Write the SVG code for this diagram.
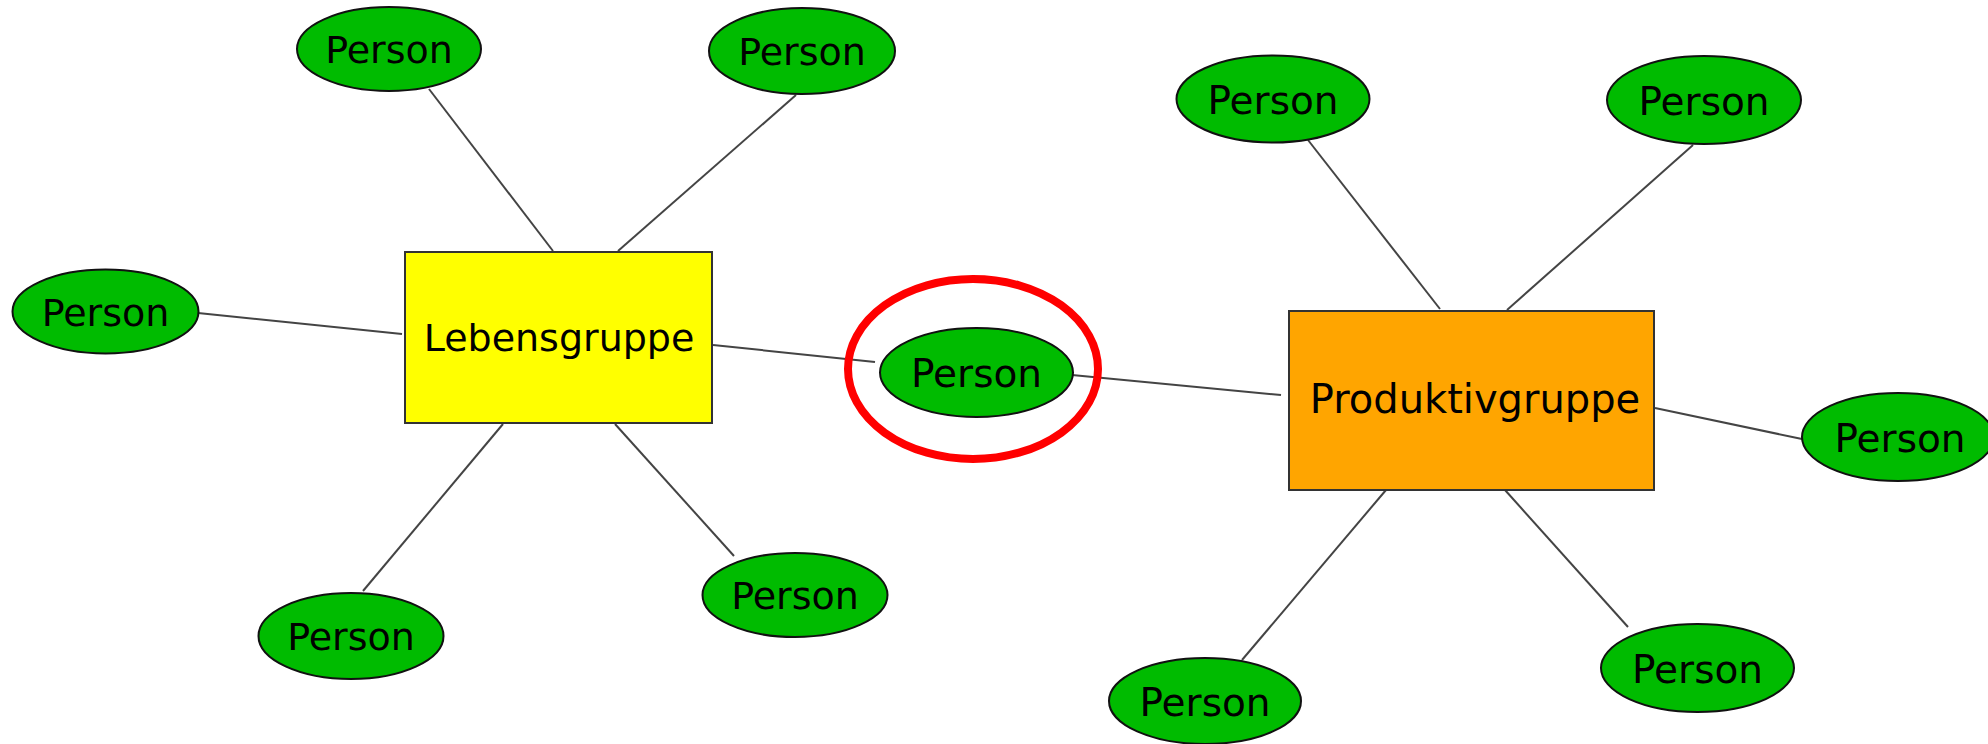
<svg xmlns="http://www.w3.org/2000/svg" width="1988" height="744" viewBox="0 0 1988 744">
<style>
.person{fill:#00bb00;stroke:#111;stroke-width:2}
.lbl{font-family:"DejaVu Sans",sans-serif;font-size:38px;fill:#000;text-anchor:middle}
.lbl2{font-family:"DejaVu Sans",sans-serif;font-size:39px;fill:#000;text-anchor:middle}
.conn line{stroke:#444;stroke-width:2}
.grp{stroke:#333;stroke-width:2}
</style>
<rect width="1988" height="744" fill="#fff"/>
<g class="conn" id="connectors">
<line x1="429" y1="89" x2="553" y2="251"/>
<line x1="796" y1="95" x2="618" y2="251"/>
<line x1="198" y1="313" x2="402" y2="334"/>
<line x1="713" y1="345" x2="875" y2="362"/>
<line x1="503" y1="424" x2="363" y2="591"/>
<line x1="615" y1="424" x2="734" y2="556"/>
<line x1="1072" y1="375" x2="1281" y2="395"/>
<line x1="1308" y1="140" x2="1440" y2="309"/>
<line x1="1693" y1="145" x2="1507" y2="310"/>
<line x1="1655" y1="408" x2="1802" y2="439"/>
<line x1="1386" y1="490" x2="1242" y2="660"/>
<line x1="1505" y1="490" x2="1628" y2="627"/>
</g>
<g id="lebensgruppe">
<rect class="grp" x="405" y="252" width="307" height="171" fill="#ffff00"/>
<text class="lbl" x="559" y="351">Lebensgruppe</text>
</g>
<g id="produktivgruppe">
<rect class="grp" x="1289" y="311" width="365" height="179" fill="#ffa500"/>
<text class="lbl2" x="1475" y="413" style="font-size:40px">Produktivgruppe</text>
</g>
<g id="person-l1"><ellipse class="person" cx="389" cy="49" rx="92" ry="42"/><text class="lbl" x="389" y="63">Person</text></g>
<g id="person-l2"><ellipse class="person" cx="802" cy="51" rx="93" ry="43"/><text class="lbl" x="802" y="65">Person</text></g>
<g id="person-l3"><ellipse class="person" cx="105.5" cy="311.5" rx="93" ry="42"/><text class="lbl" x="105.5" y="325.5">Person</text></g>
<g id="person-l4"><ellipse class="person" cx="351" cy="636" rx="92.5" ry="43"/><text class="lbl" x="351" y="650">Person</text></g>
<g id="person-l5"><ellipse class="person" cx="795" cy="595" rx="92.5" ry="42"/><text class="lbl" x="795" y="609">Person</text></g>
<g id="person-mid"><ellipse class="person" cx="976.5" cy="372.5" rx="96.5" ry="44.5"/><text class="lbl2" x="976.5" y="387">Person</text></g>
<g id="highlight"><ellipse cx="973" cy="369" rx="125" ry="90" fill="none" stroke="#ff0000" stroke-width="8"/></g>
<g id="person-r1"><ellipse class="person" cx="1273" cy="99" rx="96.5" ry="43.5"/><text class="lbl2" x="1273" y="114">Person</text></g>
<g id="person-r2"><ellipse class="person" cx="1704" cy="100" rx="97" ry="44"/><text class="lbl2" x="1704" y="115">Person</text></g>
<g id="person-r3"><ellipse class="person" cx="1898" cy="437" rx="96" ry="44"/><text class="lbl2" x="1900" y="452">Person</text></g>
<g id="person-r4"><ellipse class="person" cx="1205" cy="701" rx="96" ry="43"/><text class="lbl2" x="1205" y="716">Person</text></g>
<g id="person-r5"><ellipse class="person" cx="1697.5" cy="668" rx="96.5" ry="44"/><text class="lbl2" x="1697.5" y="683">Person</text></g>
</svg>
